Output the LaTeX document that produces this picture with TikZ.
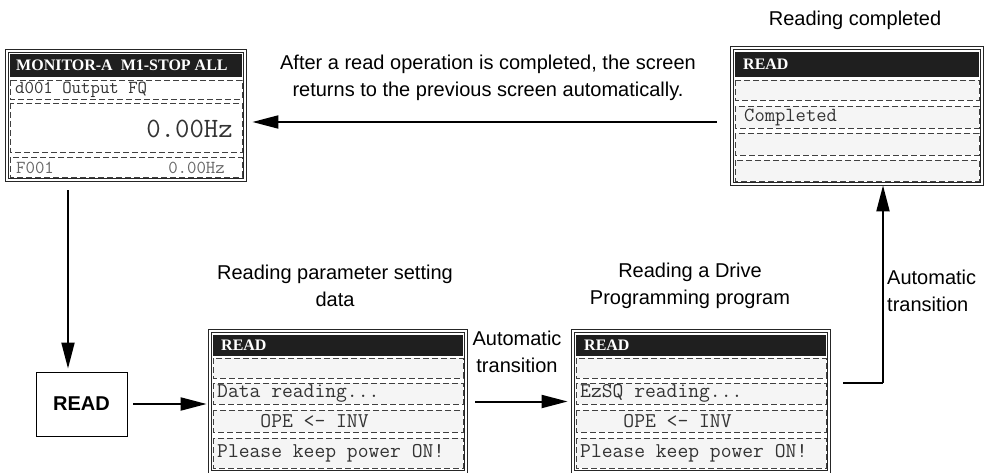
\documentclass[tikz,border=0pt]{standalone}
\usepackage{fontspec}
\setmainfont{Liberation Sans}
\newfontfamily\lcdhead{Liberation Serif}
\usetikzlibrary{arrows.meta,positioning,calc}
\newcommand{\lcddots}{...}

\tikzset{
  lcdframe/.style={draw=black!85, line width=0.8pt, double, double distance=1.6pt,
    inner sep=0pt},
  lcdhdr/.style={fill=black!88},
  lcdrow/.style={draw=black!75, line width=0.9pt, dash pattern=on 6pt off 3pt,
    fill=#1},
  lcdrow/.default=black!4,
  hdrtext/.style={text=white, inner sep=0pt, anchor=west,
    font=\lcdhead\bfseries\fontsize{16}{18}\selectfont},
  lcdtext/.style={text=black!80, inner sep=0pt, anchor=west,
    font=\ttfamily\fontsize{21}{22}\selectfont},
  lbl/.style={inner sep=0pt, font=\fontsize{20}{27}\selectfont},
  flow/.style={line width=2pt, -{Triangle[length=26pt,width=13pt]}},
}

\begin{document}
\begin{tikzpicture}[x=1pt, y=-1pt]
  \useasboundingbox (0,0) rectangle (985,473);

  % Monitor screen (top left)
  \node[lcdframe, minimum width=238pt, minimum height=129pt] (mon) at (126,115.5) {};
  \fill[lcdhdr] (10,54) rectangle (242,77);
  \node[hdrtext] (monhead) at (16,65.5) {MONITOR-A\ \ M1-STOP\ ALL};
  \foreach \t/\b in {80/99,103/152,157/177}
    \draw[lcdrow=white] (10,\t) rectangle (242,\b);
  \node[lcdtext, font=\ttfamily\fontsize{18.3}{20}\selectfont] (monpar) at (15,89.5) {d001 Output FQ};
  \node[lcdtext, anchor=east, font=\ttfamily\fontsize{28}{30}\selectfont] (monval) at (233,129) {0.00Hz};
  \node[lcdtext, text=black!60, font=\ttfamily\fontsize{18.3}{20}\selectfont] (monf) at (16,168) {F001};
  \node[lcdtext, text=black!60, anchor=east, font=\ttfamily\fontsize{18.3}{20}\selectfont] (monfval) at (225,168) {0.00Hz};

  % Completed screen (top right)
  \node[lcdframe, minimum width=250pt, minimum height=136pt] (done) at (857,116) {};
  \fill[lcdhdr] (735,52) rectangle (979,77);
  \node[hdrtext] (donehead) at (743,64.5) {READ};
  \foreach \t/\b in {80/100,106/128,133/155,160/181}
    \draw[lcdrow] (735,\t) rectangle (979,\b);
  \node[lcdtext, font=\ttfamily\fontsize{20}{22}\selectfont] (donetxt) at (744,117) {Completed};

  % READ key
  \node[draw, line width=0.9pt, minimum width=91pt, minimum height=64pt,
    font=\bfseries\fontsize{20}{24}\selectfont] (rd) at (81.5,404) {READ};

  % Reading screens (bottom)
  \foreach \x/\nm/\txt in {210/dat/Data reading\lcddots,573/ezq/EzSQ reading\lcddots} {
    \node[lcdframe, minimum width=256pt, minimum height=141pt] (\nm) at (\x+128,401.5) {};
    \fill[lcdhdr] (\x+3,335) rectangle (\x+253,356);
    \node[hdrtext] at (\x+11,345.5) {READ};
    \foreach \t/\b in {358/378,383/404,410/432,438/468}
      \draw[lcdrow] (\x+3,\t) rectangle (\x+253,\b);
    \node[lcdtext] at (\x+7,393.5) {\txt};
    \node[lcdtext] at (\x+7,421) {\ \ \ \ OPE <- INV};
    \node[lcdtext] at (\x+7,453) {Please keep power ON!};
  }

  % Captions
  \node[lbl] (donecap) at (855,20) {Reading completed};
  \node[lbl, align=center] (backcap) at (488,78)
    {After a read operation is completed, the screen\\returns to the previous screen automatically.};
  \node[lbl, align=center] (datcap) at (335,286) {Reading parameter setting\\data};
  \node[lbl, align=center] (ezqcap) at (690,286) {Reading a Drive\\Programming program};
  \node[lbl, align=center] (autocap) at (517,352) {Automatic\\transition};
  \node[lbl, align=left, anchor=west] (upcap) at (887,291) {Automatic\\transition};

  % Connectors
  \coordinate (dropx) at (68,0);
  \coordinate (backy) at (0,122);
  \coordinate (turn) at (883,383);
  \draw[flow, shorten <=10pt, shorten >=3pt] (mon.south -| dropx) -- (rd.north -| dropx);
  \draw[flow, shorten <=6pt, shorten >=3pt] (rd.east) -- (rd.east -| dat.west);
  \draw[flow, shorten <=9pt, shorten >=5pt] (dat.east) -- (dat.east -| ezq.west);
  \draw[line width=2pt, shorten <=14pt] (ezq.east |- turn) -- (turn);
  \draw[flow, shorten >=1pt] (turn) -- (done.south -| turn);
  \draw[flow, shorten <=15pt, shorten >=7pt] (done.west |- backy) -- (mon.east |- backy);
\end{tikzpicture}
\end{document}
